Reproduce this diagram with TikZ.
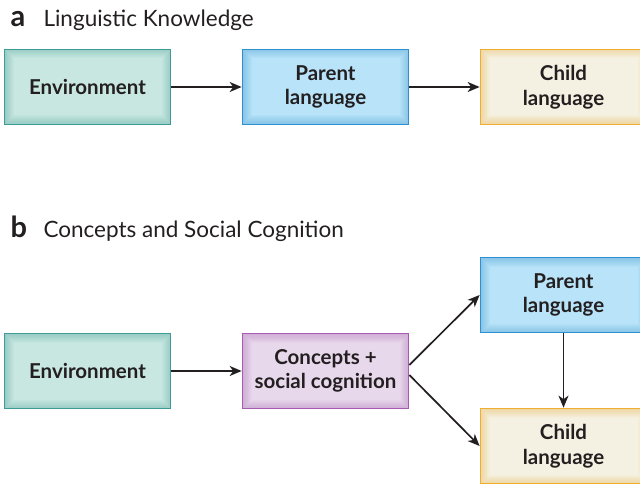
\documentclass[tikz,border=0pt]{standalone}
\usepackage{fontspec}
\setmainfont{Lato}
\usetikzlibrary{arrows.meta}
\definecolor{envfill}{HTML}{C8E7E0}
\definecolor{envline}{HTML}{3E9C96}
\definecolor{parfill}{HTML}{B8E3F8}
\definecolor{parline}{HTML}{2E90D1}
\definecolor{chifill}{HTML}{F5F1E2}
\definecolor{chiline}{HTML}{F0AE2E}
\definecolor{confill}{HTML}{E8D8EC}
\definecolor{conline}{HTML}{A85CB1}
\definecolor{inkgray}{HTML}{231F20}
\tikzset{glow/.style={path picture={
  \foreach \w in {2,4,...,18}
    \draw[line width=\w pt,draw=#1,opacity=0.04]
      (path picture bounding box.south west) rectangle (path picture bounding box.north east);}}}
\begin{document}
\begin{tikzpicture}[x=1pt,y=-1pt,every node/.style={text=inkgray,font=\fontsize{22.5}{26}\selectfont},
  box/.style={draw,line width=1.7pt,minimum width=166pt,minimum height=75pt,inner sep=0pt,align=center,font=\fontsize{20.5}{24.5}\selectfont\bfseries},
  envbox/.style={box,fill=envfill,draw=envline,glow=envline},
  parentbox/.style={box,fill=parfill,draw=parline,glow=parline},
  childbox/.style={box,fill=chifill,draw=chiline,glow=chiline},
  conceptbox/.style={box,fill=confill,draw=conline,glow=conline},
  link/.style={line width=1.7pt,draw=inkgray,-{Stealth[length=12pt,width=10pt,inset=3.5pt]}}]
  \useasboundingbox (0,0) rectangle (640,484);
  % panel a
  \node[anchor=base west,font=\fontsize{29}{30}\selectfont\bfseries] (la) at (7,27) {a};
  \node[anchor=base west] (ta) at (40,27) {Linguistic Knowledge};
  \node[envbox] (ea) at (87.5,87) {Environment};
  \node[parentbox] (pa) at (325.5,87) {Parent\\language};
  \node[childbox] (ca) at (563.5,87) {Child\\language};
  \draw[link] (ea) -- (pa);
  \draw[link] (pa) -- (ca);
  % panel b
  \node[anchor=base west,font=\fontsize{29}{30}\selectfont\bfseries] (lb) at (7,237) {b};
  \node[anchor=base west] (tb) at (40,237) {Concepts and Social Cognition};
  \node[envbox] (eb) at (87.5,371) {Environment};
  \node[conceptbox] (cb) at (325.5,371) {Concepts +\\social cognition};
  \node[parentbox] (pb) at (563.5,295) {Parent\\language};
  \node[childbox] (chb) at (563.5,446) {Child\\language};
  \draw[link] (eb) -- (cb);
  \draw[link] ([yshift=6pt]cb.east) -- (pb.west);
  \draw[link] ([yshift=-4pt]cb.east) -- (chb.west);
  \draw[link] (pb) -- (chb);
\end{tikzpicture}
\end{document}
